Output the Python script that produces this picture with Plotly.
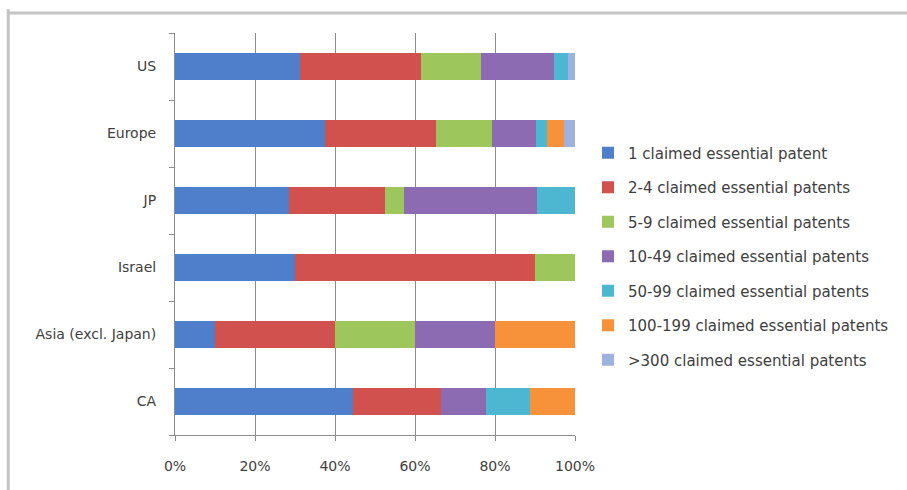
import plotly.graph_objects as go

# Regions, listed top to bottom as they appear on the chart
regions = ["US", "Europe", "JP", "Israel", "Asia (excl. Japan)", "CA"]

# Share of companies (%) in each bucket of claimed essential patents
series_names = [
    "1 claimed essential patent",
    "2-4 claimed essential patents",
    "5-9 claimed essential patents",
    "10-49 claimed essential patents",
    "50-99 claimed essential patents",
    "100-199 claimed essential patents",
    ">300 claimed essential patents",
]
one = [31.3, 37.5, 28.6, 30.0, 10.0, 44.4]
two_to_four = [30.1, 27.8, 23.8, 60.0, 30.0, 22.2]
five_to_nine = [15.0, 14.0, 4.8, 10.0, 20.0, 0.0]
ten_to_49 = [18.3, 10.9, 33.3, 0.0, 20.0, 11.1]
fifty_to_99 = [3.5, 2.7, 9.5, 0.0, 0.0, 11.1]
hundred_to_199 = [0.0, 4.4, 0.0, 0.0, 20.0, 11.1]
over_300 = [1.8, 2.7, 0.0, 0.0, 0.0, 0.0]

series_values = [one, two_to_four, five_to_nine, ten_to_49,
                 fifty_to_99, hundred_to_199, over_300]
colors = ["#4F7FCB", "#D0514D", "#9DC75C", "#8D6BB3",
          "#4DB6D0", "#F7923A", "#9EB2E0"]

x_ticks = [0, 20, 40, 60, 80, 100]

font_family = "DejaVu Sans, Open Sans, sans-serif"
text_color = "#404040"
axis_gray = "#8C8C8C"

fig = go.Figure()
for i, (name, vals, col) in enumerate(zip(series_names, series_values, colors)):
    fig.add_trace(go.Bar(
        x=vals,
        y=regions,
        name=name,
        orientation="h",
        marker=dict(color=col, line=dict(width=0)),
        legendgroup=f"g{i}",
    ))

fig.update_layout(
    width=907,
    height=490,
    barmode="stack",
    bargap=0.6,
    plot_bgcolor="white",
    paper_bgcolor="white",
    font=dict(family=font_family, size=14, color=text_color),
    margin=dict(l=175, r=332, t=33, b=55),
    showlegend=True,
    legend=dict(
        x=1.0325, xanchor="left", xref="paper",
        y=0.444, yanchor="middle",
        traceorder="grouped",
        tracegroupgap=12,
        itemwidth=30,
        font=dict(family=font_family, size=15, color=text_color),
        bgcolor="rgba(0,0,0,0)",
    ),
    shapes=[
        # chart frame: left and top edges
        dict(type="line", xref="paper", yref="paper",
             x0=-0.417, x1=-0.417, y0=1.06, y1=-0.14,
             line=dict(color="#C4C4C4", width=3)),
        dict(type="line", xref="paper", yref="paper",
             x0=-0.417, x1=1.85, y0=1.05, y1=1.05,
             line=dict(color="#C4C4C4", width=3)),
    ],
)

fig.update_xaxes(
    range=[0, 100],
    tickvals=x_ticks,
    ticktext=[f"{v}%" for v in x_ticks],
    showgrid=True,
    gridcolor=axis_gray,
    gridwidth=1,
    showline=True,
    linecolor=axis_gray,
    linewidth=1,
    ticks="outside",
    ticklen=5,
    tickcolor=axis_gray,
    ticklabelstandoff=13,
    zeroline=False,
    fixedrange=True,
)

fig.update_yaxes(
    categoryorder="array",
    categoryarray=regions[::-1],
    showline=True,
    linecolor=axis_gray,
    linewidth=1,
    ticks="outside",
    tickson="boundaries",
    ticklen=5,
    tickcolor=axis_gray,
    ticklabelstandoff=15,
    showgrid=False,
    fixedrange=True,
)

fig.write_html("out.html")
